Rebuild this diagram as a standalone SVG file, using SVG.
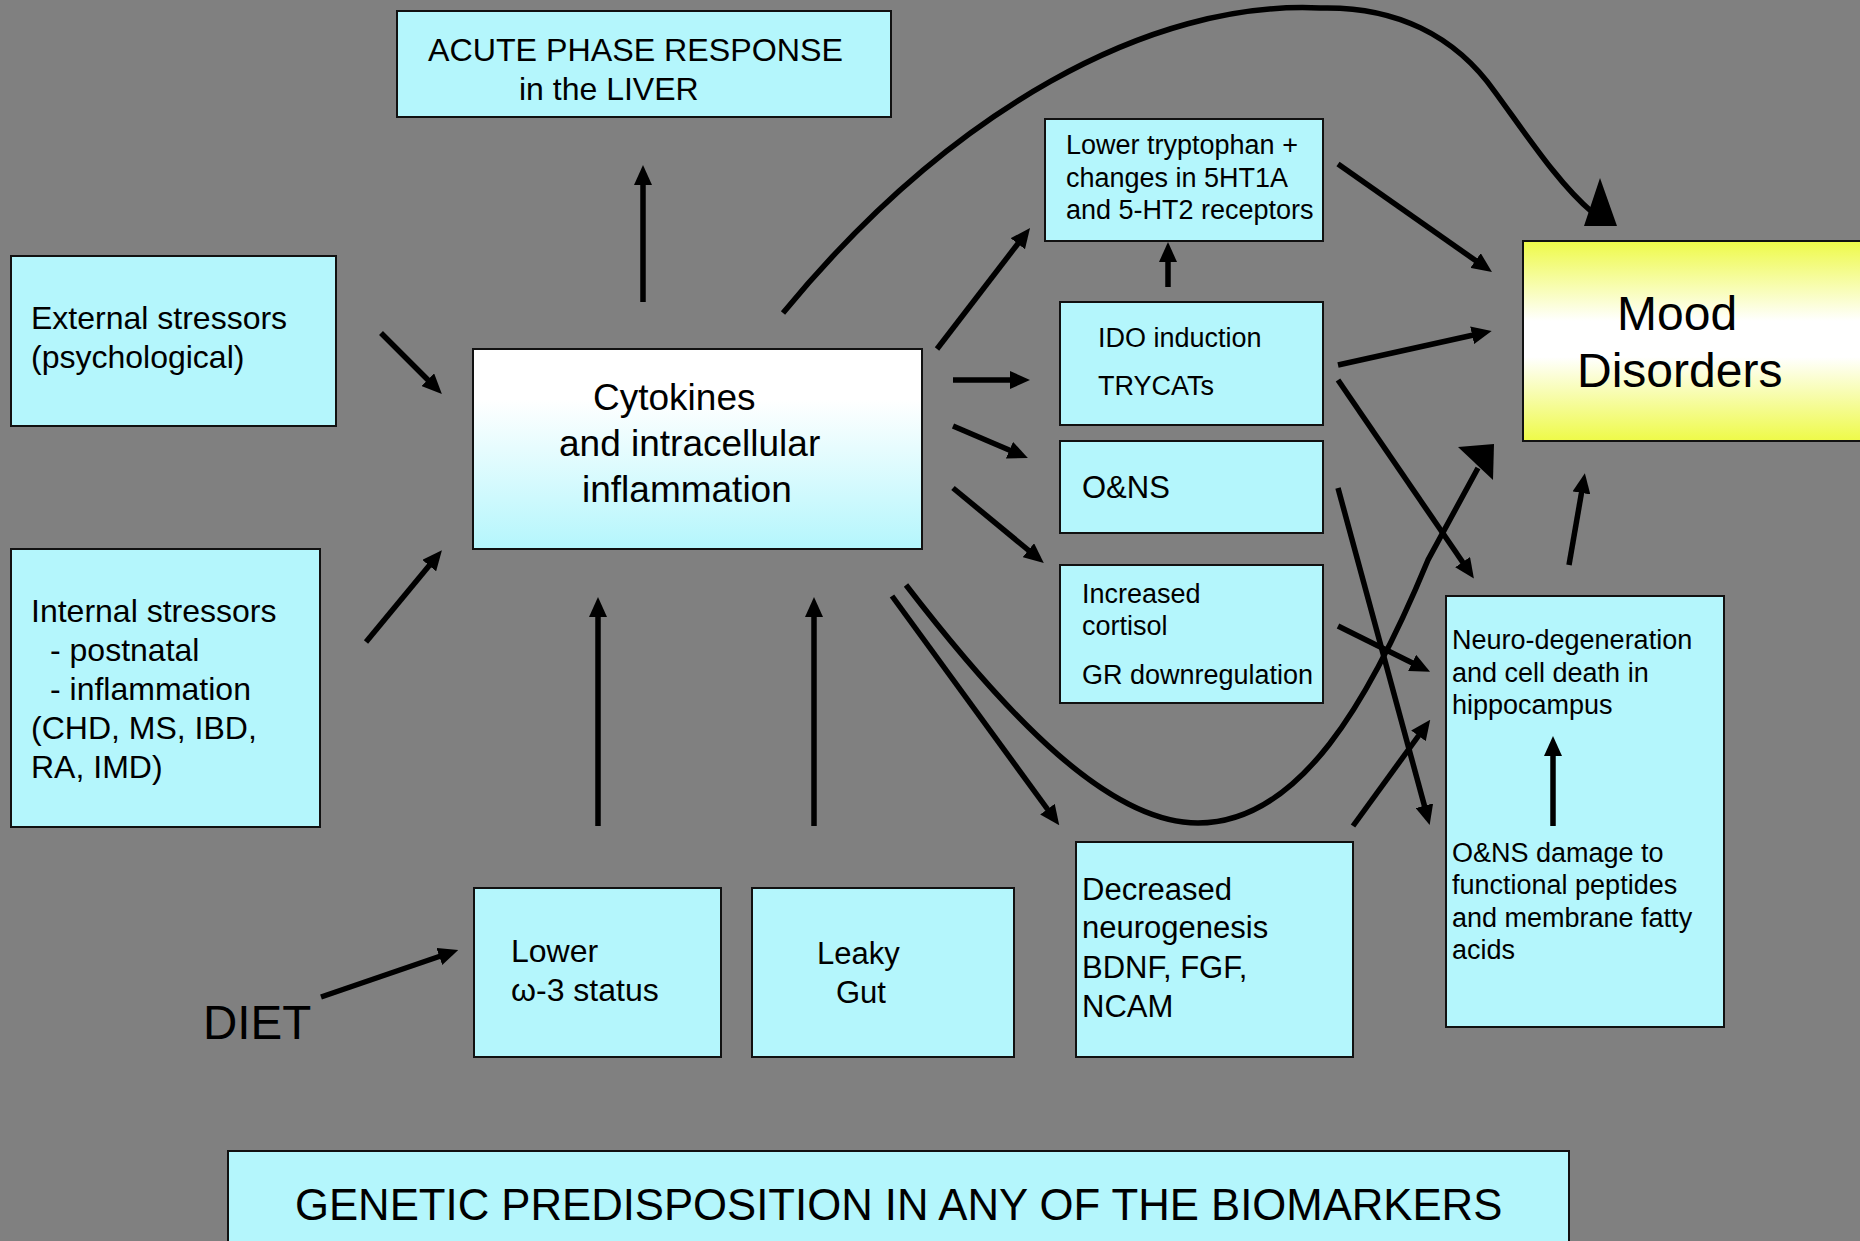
<svg xmlns="http://www.w3.org/2000/svg" width="1860" height="1241" viewBox="0 0 1860 1241">
<defs>
<style>
.box{fill:#b4f6fc;stroke:#111;stroke-width:2}
text{font-family:"Liberation Sans",Arial,sans-serif;fill:#000}
.f32{font-size:32px}.f27{font-size:27px}.f31{font-size:31px}
.ln{fill:none;stroke:#000;stroke-width:5.5;marker-end:url(#ah)}
.cv{fill:none;stroke:#000;stroke-width:5.5}
</style>
<marker id="ah" viewBox="0 0 20 18" refX="6" refY="9" markerWidth="20" markerHeight="18" markerUnits="userSpaceOnUse" orient="auto"><path d="M0,0 L20,9 L0,18 z" fill="#000"/></marker>
<linearGradient id="gCyt" x1="0" y1="0" x2="0" y2="1"><stop offset="0" stop-color="#ffffff"/><stop offset="0.25" stop-color="#ffffff"/><stop offset="1" stop-color="#b4f6fc"/></linearGradient>
<linearGradient id="gMood" x1="0" y1="0" x2="0" y2="1"><stop offset="0" stop-color="#eefa48"/><stop offset="0.4" stop-color="#ffffff"/><stop offset="0.58" stop-color="#ffffff"/><stop offset="1" stop-color="#eefa48"/></linearGradient>
</defs>
<rect width="1860" height="1241" fill="#808080"/>

<g id="acute"><rect class="box" x="397" y="11" width="494" height="106"/>
<text font-size="32.2" x="428" y="61">ACUTE PHASE RESPONSE</text><text class="f32" x="519" y="100">in the LIVER</text></g>

<g id="external"><rect class="box" x="11" y="256" width="325" height="170"/>
<text class="f32" x="31" y="329">External stressors</text><text class="f32" x="31" y="368">(psychological)</text></g>

<g id="cytokines"><rect x="473" y="349" width="449" height="200" fill="url(#gCyt)" stroke="#111" stroke-width="2"/>
<text font-size="37" x="593" y="410">Cytokines</text><text font-size="37" x="559" y="456">and intracellular</text><text font-size="37" x="582" y="502">inflammation</text></g>

<g id="internal"><rect class="box" x="11" y="549" width="309" height="278"/>
<text class="f32" x="31" y="622">Internal stressors</text><text class="f32" x="50" y="661">- postnatal</text><text class="f32" x="50" y="700">- inflammation</text><text class="f32" x="31" y="739">(CHD, MS, IBD,</text><text class="f32" x="31" y="778">RA, IMD)</text></g>

<g id="omega3"><rect class="box" x="474" y="888" width="247" height="169"/>
<text class="f32" x="511" y="962">Lower</text><text class="f32" x="511" y="1001">ω-3 status</text></g>

<g id="leaky"><rect class="box" x="752" y="888" width="262" height="169"/>
<text class="f31" x="817" y="964">Leaky</text><text class="f31" x="836" y="1003">Gut</text></g>

<g id="diet"><text font-size="47.5" x="203" y="1039">DIET</text></g>

<g id="genetic"><rect class="box" x="228" y="1151" width="1341" height="100"/>
<text font-size="43.7" x="295" y="1220">GENETIC PREDISPOSITION IN ANY OF THE BIOMARKERS</text></g>

<g id="tryptophan"><rect class="box" x="1045" y="119" width="278" height="122"/>
<text class="f27" x="1066" y="154">Lower tryptophan +</text><text class="f27" x="1066" y="187">changes in 5HT1A</text><text class="f27" x="1066" y="219">and 5-HT2 receptors</text></g>

<g id="ido"><rect class="box" x="1060" y="302" width="263" height="123"/>
<text class="f27" x="1098" y="347">IDO induction</text><text class="f27" x="1098" y="395">TRYCATs</text></g>

<g id="ons"><rect class="box" x="1060" y="441" width="263" height="92"/>
<text class="f31" x="1082" y="498">O&amp;NS</text></g>

<g id="cortisol"><rect class="box" x="1060" y="565" width="263" height="138"/>
<text class="f27" x="1082" y="603">Increased</text><text class="f27" x="1082" y="635">cortisol</text><text class="f27" x="1082" y="684">GR downregulation</text></g>

<g id="neurogenesis"><rect class="box" x="1076" y="842" width="277" height="215"/>
<text class="f31" x="1082" y="900">Decreased</text><text class="f31" x="1082" y="938">neurogenesis</text><text class="f31" x="1082" y="978">BDNF, FGF,</text><text class="f31" x="1082" y="1017">NCAM</text></g>

<g id="neurodegeneration"><rect class="box" x="1446" y="596" width="278" height="431"/>
<text class="f27" x="1452" y="649">Neuro-degeneration</text><text class="f27" x="1452" y="682">and cell death in</text><text class="f27" x="1452" y="714">hippocampus</text>
<text class="f27" x="1452" y="862">O&amp;NS damage to</text><text class="f27" x="1452" y="894">functional peptides</text><text class="f27" x="1452" y="927">and membrane fatty</text><text class="f27" x="1452" y="959">acids</text></g>

<g id="mood"><rect x="1523" y="241" width="350" height="200" fill="url(#gMood)" stroke="#111" stroke-width="2"/>
<text font-size="48" x="1617" y="330">Mood</text><text font-size="48" x="1577" y="387">Disorders</text></g>

<g id="connectors">
<path class="ln" d="M643,302 L643,179"/>
<path class="ln" d="M381,333 L432,384"/>
<path class="ln" d="M366,642 L433,561"/>
<path class="ln" d="M598,826 L598,611"/>
<path class="ln" d="M814,826 L814,611"/>
<path class="ln" d="M321,997 L445,954.5"/>
<path class="ln" d="M937,349 L1021.5,239"/>
<path class="ln" d="M953,380 L1016,380"/>
<path class="ln" d="M953,426 L1015,452.5"/>
<path class="ln" d="M953,488 L1033,554"/>
<path class="ln" d="M1168,287 L1168,256"/>
<path class="ln" d="M1338,164 L1480.5,264"/>
<path class="ln" d="M1338,365 L1478,334"/>
<path class="ln" d="M1338,380 L1466,567"/>
<path class="ln" d="M1338,488 L1426,811.5"/>
<path class="ln" d="M1338,626 L1417.5,665.5"/>
<path class="ln" d="M1353,826 L1422,731"/>
<path class="ln" d="M1569,565 L1582.5,487"/>
<path class="ln" d="M892,596 L1051,814"/>
<path class="ln" d="M1553,826 L1553,750"/>
<path class="cv" d="M783,313 C950,110 1150,0 1320,8 C1395,6 1455,35 1495,92 C1530,140 1560,185 1592,212"/>
<polygon points="1600,178 1584,226 1617,226" fill="#000"/>
<path class="cv" d="M906,585 C1010,720 1110,823 1198,823 C1300,823 1370,700 1428,560 L1478,468"/>
<polygon points="1494,444 1458,447 1493,480" fill="#000"/>
</g>
</svg>
